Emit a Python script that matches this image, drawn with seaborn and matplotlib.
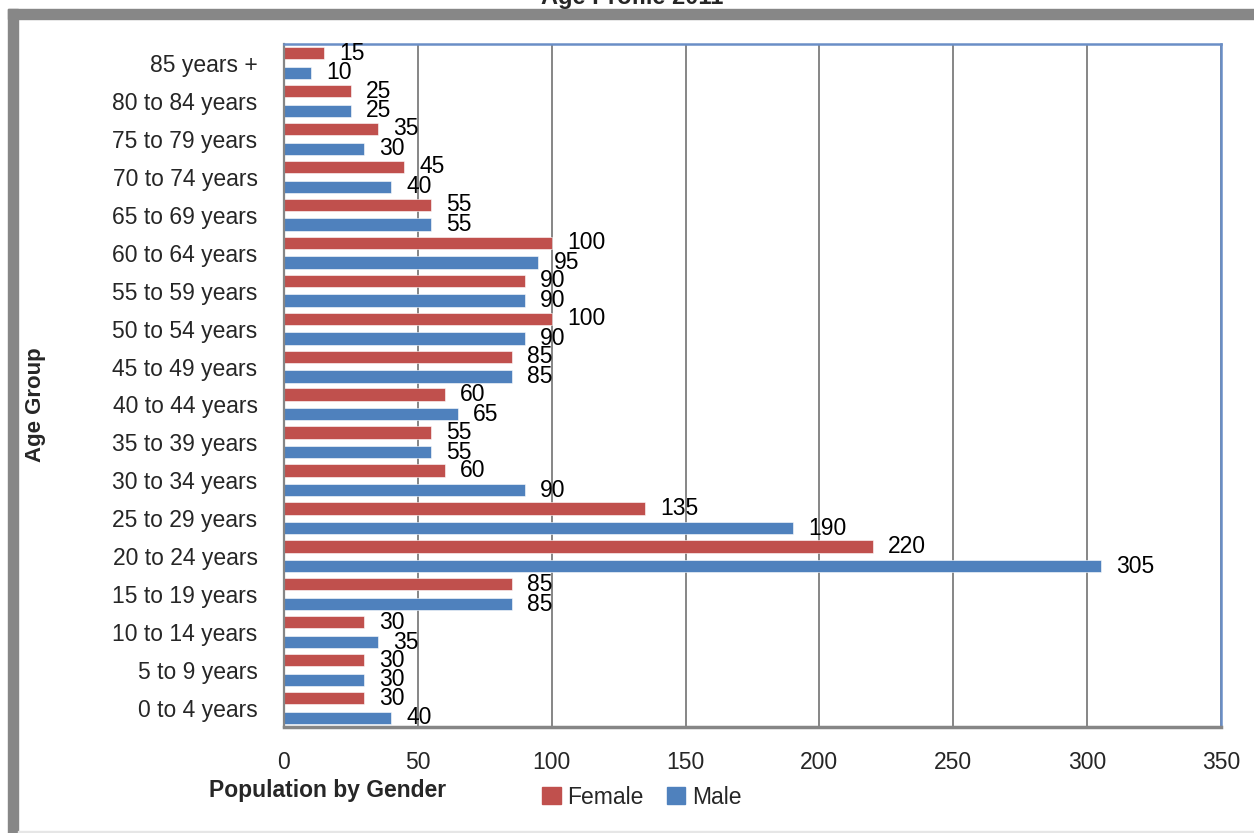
import matplotlib
matplotlib.use("Agg")
import matplotlib.pyplot as plt
import matplotlib.patches as mpatches
import numpy as np
import pandas as pd
import seaborn as sns

# --- data ---
ages = [
    "85 years +", "80 to 84 years", "75 to 79 years", "70 to 74 years",
    "65 to 69 years", "60 to 64 years", "55 to 59 years", "50 to 54 years",
    "45 to 49 years", "40 to 44 years", "35 to 39 years", "30 to 34 years",
    "25 to 29 years", "20 to 24 years", "15 to 19 years", "10 to 14 years",
    "5 to 9 years", "0 to 4 years",
]
female = [15, 25, 35, 45, 55, 100, 90, 100, 85, 60, 55, 60, 135, 220, 85, 30, 30, 30]
male = [10, 25, 30, 40, 55, 95, 90, 90, 85, 65, 55, 90, 190, 305, 85, 35, 30, 40]
genders = ["Female", "Male"]
x_ticks = [0, 50, 100, 150, 200, 250, 300, 350]

RED = "#C0504D"
BLUE = "#4F81BD"
GRID = "#868686"

df = pd.DataFrame({
    "age": ages * 2,
    "gender": ["Female"] * len(ages) + ["Male"] * len(ages),
    "value": female + male,
})

sns.set_style("white")
plt.rcParams["font.family"] = ["Liberation Sans", "DejaVu Sans"]

W, H = 1254, 833
fig = plt.figure(figsize=(W / 100, H / 100), dpi=100)
ax = fig.add_axes([284 / W, 1 - 727 / H, (1221 - 284) / W, (727 - 44) / H])

sns.barplot(
    data=df, x="value", y="age", hue="gender",
    order=ages, hue_order=genders, palette=[RED, BLUE], saturation=1,
    orient="h", width=1.04, gap=0.38, legend=False, ax=ax,
    edgecolor="white", linewidth=0.4,
)

for cont in ax.containers:
    ax.bar_label(cont, padding=11, fontsize=16.5, color="black")

ax.set_xlim(0, 350)
ax.set_ylim(len(ages) - 0.5, -0.5)
ax.set_xticks(x_ticks)
ax.set_xticklabels([str(t) for t in x_ticks])
ax.xaxis.grid(True, color=GRID, lw=1.4)
ax.yaxis.grid(False)
ax.set_axisbelow(True)

ax.set_xlabel("")
ax.set_ylabel("")
ax.tick_params(axis="x", which="major", length=5, width=1.3, color=GRID,
               direction="out", pad=12, labelsize=16.5)
ax.tick_params(axis="y", which="major", length=0, pad=19, labelsize=16.5)
ax.set_yticks(np.arange(len(ages) + 1) - 0.5, minor=True)
ax.tick_params(axis="y", which="minor", length=8, width=1.3, color=GRID, direction="out")

ax.spines["left"].set_color(GRID)
ax.spines["left"].set_linewidth(1.6)
ax.spines["bottom"].set_color(GRID)
ax.spines["bottom"].set_linewidth(2.5)
for s in ["top", "right"]:
    ax.spines[s].set_color("#6A8EC6")
    ax.spines[s].set_linewidth(1.8)

# axis titles
fig.text(328 / W, 1 - 790 / H, "Population by Gender", ha="center", va="center",
         fontsize=16.5, fontweight="bold")
fig.text(35 / W, 1 - 405 / H, "Age Group", ha="center", va="center",
         rotation=90, fontsize=16, fontweight="bold")

# chart title, cut off by the top edge as in the reference
fig.text(632 / W, 1 - 4 / H, "Age Profile 2011", ha="center", va="baseline",
         fontsize=17, fontweight="bold")

# legend
handles = [mpatches.Patch(color=RED, label="Female"), mpatches.Patch(color=BLUE, label="Male")]
fig.legend(handles=handles, loc="center", bbox_to_anchor=(642 / W, 1 - 797 / H),
           ncol=2, frameon=False, fontsize=16.5, handlelength=0.8, handleheight=0.8,
           handletextpad=0.3, columnspacing=1.0)

# grey outer frame
fig.patches.append(mpatches.Rectangle((8 / W, 0), 10 / W, 1 - 9 / H, transform=fig.transFigure,
                                      color="#878787", zorder=0))
fig.patches.append(mpatches.Rectangle((8 / W, 1 - 19 / H), 1, 10 / H, transform=fig.transFigure,
                                      color="#878787", zorder=0))
fig.patches.append(mpatches.Rectangle((18 / W, 0), 1, 2 / H, transform=fig.transFigure,
                                      color="#E6E6E6", zorder=0))

fig.savefig("out.png", dpi=100)
